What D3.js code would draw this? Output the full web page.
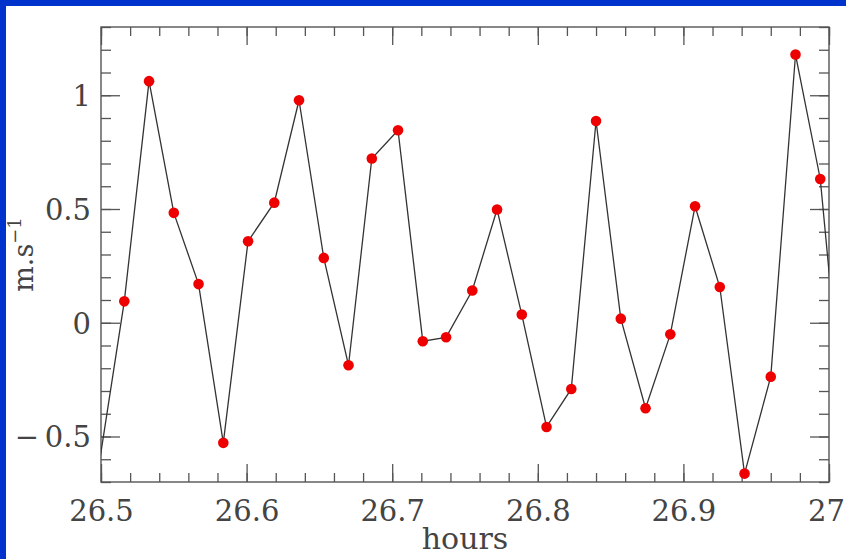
<!DOCTYPE html>
<html>
<head>
<meta charset="utf-8">
<script src="https://cdn.jsdelivr.net/npm/d3@7"></script>
<style>
  body { margin: 0; background: #0033cc; }
  svg { display: block; }
  text { font-family: "DejaVu Serif", "Liberation Serif", serif; fill: #444; }
</style>
</head>
<body>
<svg id="chart" width="846" height="559"></svg>
<script>
// data (first and last points sit just outside the frame)
let hours = [26.499, 26.516, 26.533, 26.550, 26.567, 26.584, 26.601, 26.619, 26.636, 26.653,
             26.670, 26.686, 26.704, 26.721, 26.737, 26.755, 26.772, 26.789, 26.806, 26.823,
             26.840, 26.857, 26.874, 26.891, 26.908, 26.925, 26.942, 26.960, 26.977, 26.994, 27.011];
let speed = [-0.61, 0.094, 1.062, 0.483, 0.170, -0.528, 0.358, 0.528, 0.978, 0.285,
             -0.187, 0.722, 0.846, -0.081, -0.064, 0.142, 0.498, 0.036, -0.458, -0.291,
             0.887, 0.018, -0.376, -0.051, 0.512, 0.157, -0.663, -0.237, 1.179, 0.632, -0.52];

let xDomain = [26.5, 27];
let yDomain = [-0.7, 1.3];
let xLabels = [26.5, 26.6, 26.7, 26.8, 26.9, 27];
let yLabels = [-0.5, 0, 0.5, 1];

let svg = d3.select("#chart");

// white panel on the blue slide
svg.append("rect")
    .attr("x", 6).attr("y", 6)
    .attr("width", 840).attr("height", 553)
    .attr("fill", "white");

let frameLeft = 101, frameTop = 27, frameRight = 829, frameBottom = 482;
let width = frameRight - frameLeft;
let height = frameBottom - frameTop;

let xScale = d3.scaleLinear().domain(xDomain).range([0, width]);
let yScale = d3.scaleLinear().domain(yDomain).range([height, 0]);

let plot = svg.append("g").attr("transform", `translate(${frameLeft},${frameTop})`);

plot.append("clipPath").attr("id", "clip")
    .append("rect").attr("width", width).attr("height", height);

let points = hours.map((h, i) => ({ h: h, v: speed[i] }));

// ticks on all four sides, pointing inward
let tickColor = "#555";
function styleAxis(g) {
    g.select(".domain").remove();
    g.selectAll("line").attr("stroke", tickColor).attr("stroke-width", 1.3);
}

let xMinor = xScale.ticks(25);
let yMinor = yScale.ticks(20);

plot.append("g").attr("transform", `translate(0,${height})`)
    .call(d3.axisBottom(xScale).tickValues(xMinor).tickSize(-9).tickFormat(""))
    .call(styleAxis);
plot.append("g")
    .call(d3.axisTop(xScale).tickValues(xMinor).tickSize(-9).tickFormat(""))
    .call(styleAxis);
plot.append("g")
    .call(d3.axisLeft(yScale).tickValues(yMinor).tickSize(-10).tickFormat(""))
    .call(styleAxis);
plot.append("g").attr("transform", `translate(${width},0)`)
    .call(d3.axisRight(yScale).tickValues(yMinor).tickSize(-10).tickFormat(""))
    .call(styleAxis);

let xAxis = plot.append("g").attr("transform", `translate(0,${height})`)
    .call(d3.axisBottom(xScale).tickValues(xLabels).tickSize(-18).tickFormat(d3.format("")))
    .call(styleAxis);
xAxis.selectAll("text")
    .attr("y", 39).attr("dy", 0)
    .attr("x", d => d === xDomain[1] ? -3 : 0)
    .attr("font-size", 29)
    .attr("fill", "#444");

plot.append("g")
    .call(d3.axisTop(xScale).tickValues(xLabels).tickSize(-18).tickFormat(""))
    .call(styleAxis);

let yAxis = plot.append("g")
    .call(d3.axisLeft(yScale).tickValues(yLabels).tickSize(-19)
        .tickFormat(d => d < 0 ? "\u2212\u2009" + d3.format("")(-d) : d3.format("")(d)))
    .call(styleAxis);
yAxis.selectAll("text")
    .attr("x", -10)
    .attr("dy", "0.36em")
    .attr("font-size", 29)
    .attr("fill", "#444");

plot.append("g").attr("transform", `translate(${width},0)`)
    .call(d3.axisRight(yScale).tickValues(yLabels).tickSize(-19).tickFormat(""))
    .call(styleAxis);

// frame
plot.append("rect")
    .attr("width", width).attr("height", height)
    .attr("fill", "none")
    .attr("stroke", tickColor)
    .attr("stroke-width", 1.4);

let line = d3.line()
    .x(d => xScale(d.h))
    .y(d => yScale(d.v));

let inner = plot.append("g").attr("clip-path", "url(#clip)");

inner.append("path")
    .datum(points)
    .attr("d", line)
    .attr("fill", "none")
    .attr("stroke", "#333")
    .attr("stroke-width", 1.3);

inner.selectAll("circle")
    .data(points.filter(d => d.h >= xDomain[0] && d.h <= xDomain[1]))
    .enter()
    .append("circle")
    .attr("cx", d => xScale(d.h))
    .attr("cy", d => yScale(d.v))
    .attr("r", 5.3)
    .attr("fill", "#ee0000");

// axis titles
svg.append("text")
    .attr("x", (frameLeft + frameRight) / 2)
    .attr("y", 549)
    .attr("text-anchor", "middle")
    .attr("font-size", 30)
    .text("hours");

let yTitle = svg.append("text")
    .attr("transform", `translate(33,${(frameTop + frameBottom) / 2}) rotate(-90)`)
    .attr("text-anchor", "middle")
    .attr("font-size", 27);
yTitle.append("tspan").text("m.s");
yTitle.append("tspan").attr("dy", -12).attr("font-size", 18).text("−1");
</script>
</body>
</html>
